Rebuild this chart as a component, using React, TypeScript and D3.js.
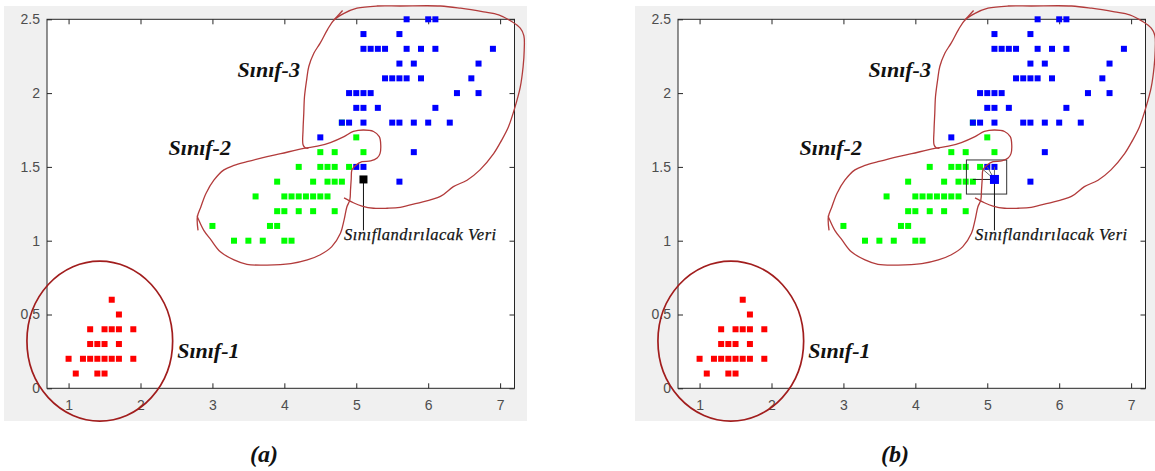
import React, { useEffect, useRef } from "react";
import * as d3 from "d3";

// iris petal length (cm) vs petal width (cm), unique points
const setosa: [number, number][] = [
  [1.1, 0.1], [1.4, 0.1], [1.5, 0.1],
  [1.0, 0.2], [1.2, 0.2], [1.3, 0.2], [1.4, 0.2], [1.5, 0.2], [1.6, 0.2], [1.7, 0.2], [1.9, 0.2],
  [1.3, 0.3], [1.4, 0.3], [1.5, 0.3], [1.7, 0.3],
  [1.3, 0.4], [1.5, 0.4], [1.6, 0.4], [1.7, 0.4], [1.9, 0.4],
  [1.7, 0.5], [1.6, 0.6],
];

const versicolor: [number, number][] = [
  [3.3, 1.0], [3.5, 1.0], [3.7, 1.0], [4.0, 1.0], [4.1, 1.0],
  [3.0, 1.1], [3.8, 1.1], [3.9, 1.1],
  [3.9, 1.2], [4.0, 1.2], [4.2, 1.2], [4.4, 1.2], [4.7, 1.2],
  [3.6, 1.3], [4.0, 1.3], [4.1, 1.3], [4.2, 1.3], [4.3, 1.3], [4.4, 1.3], [4.5, 1.3], [4.6, 1.3],
  [3.9, 1.4], [4.4, 1.4], [4.6, 1.4], [4.7, 1.4], [4.8, 1.4],
  [4.2, 1.5], [4.5, 1.5], [4.6, 1.5], [4.7, 1.5], [4.9, 1.5],
  [4.5, 1.6], [4.7, 1.6], [5.1, 1.6],
  [5.0, 1.7], [4.8, 1.8],
];

const virginica: [number, number][] = [
  [5.6, 1.4], [5.0, 1.5], [5.1, 1.5], [5.8, 1.6], [4.5, 1.7],
  [4.8, 1.8], [4.9, 1.8], [5.1, 1.8], [5.5, 1.8], [5.6, 1.8], [5.8, 1.8], [6.0, 1.8], [6.3, 1.8],
  [5.0, 1.9], [5.1, 1.9], [5.3, 1.9], [6.1, 1.9],
  [4.9, 2.0], [5.0, 2.0], [5.1, 2.0], [5.2, 2.0], [6.4, 2.0], [6.7, 2.0],
  [5.4, 2.1], [5.5, 2.1], [5.6, 2.1], [5.7, 2.1], [5.9, 2.1], [6.6, 2.1],
  [5.6, 2.2], [5.8, 2.2], [6.7, 2.2],
  [5.1, 2.3], [5.2, 2.3], [5.3, 2.3], [5.4, 2.3], [5.7, 2.3], [5.9, 2.3], [6.1, 2.3], [6.9, 2.3],
  [5.1, 2.4], [5.6, 2.4],
  [5.7, 2.5], [6.0, 2.5], [6.1, 2.5],
];

const query: [number, number] = [5.1, 1.415];
const queryLabelEnd = 1.07;
const neighbours: [number, number][] = [[4.8, 1.415], [4.9, 1.5], [5.0, 1.5], [5.1, 1.5]];
const searchBox = { x0: 4.71, x1: 5.27, y0: 1.316, y1: 1.547 };

const xTicks = [1, 2, 3, 4, 5, 6, 7];
const xTickLabels = ["1", "2", "3", "4", "5", "6", "7"];
const yTicks = [0, 0.5, 1, 1.5, 2, 2.5];
const yTickLabels = ["0", "0.5", "1", "1.5", "2", "2.5"];

const classLabels = [
  { text: "Sınıf-1", x: 2.51, y: 0.205 },
  { text: "Sınıf-2", x: 2.39, y: 1.58 },
  { text: "Sınıf-3", x: 3.35, y: 2.11 },
];
const queryLabel = { text: "Sınıflandırılacak Veri", x: 4.83, y: 1.005 };
const panelCaptions = ["(a)", "(b)"];

// hand drawn class outlines, in data units
const class1Ellipse = { cx: 1.434, cy: 0.32, rx: 1.013, ry: 0.542 };

const class2Outline: [number, number][] = [
  [2.8, 1.07], [2.79, 1.16], [2.84, 1.23], [2.91, 1.32], [3.02, 1.41], [3.16, 1.48], [3.3, 1.51],
  [3.48, 1.535], [3.76, 1.57], [3.95, 1.59], [4.27, 1.625], [4.46, 1.64], [4.64, 1.665], [4.83, 1.705],
  [4.96, 1.74], [5.1, 1.75], [5.24, 1.74], [5.32, 1.705], [5.34, 1.65], [5.33, 1.59], [5.29, 1.56],
  [5.2, 1.54], [5.08, 1.535], [4.99, 1.51], [4.94, 1.48], [4.93, 1.42], [4.92, 1.345], [4.91, 1.275],
  [4.87, 1.23], [4.83, 1.14], [4.78, 1.05], [4.66, 0.96], [4.5, 0.905], [4.32, 0.87], [4.09, 0.845],
  [3.76, 0.835], [3.48, 0.84], [3.3, 0.87], [3.11, 0.925], [2.98, 1.005], [2.88, 1.07], [2.81, 1.14],
  [2.785, 1.17],
];

const class3Outline: [number, number][] = [
  [4.83, 1.29], [4.96, 1.257], [5.08, 1.235], [5.24, 1.22], [5.43, 1.22], [5.61, 1.226], [5.84, 1.253],
  [6.17, 1.3], [6.35, 1.366], [6.54, 1.41], [6.72, 1.48], [6.91, 1.59], [7.02, 1.68], [7.115, 1.77],
  [7.21, 1.91], [7.28, 2.04], [7.32, 2.18], [7.335, 2.29], [7.33, 2.39], [7.28, 2.44], [7.16, 2.485],
  [6.98, 2.53], [6.77, 2.55], [6.45, 2.575], [6.17, 2.59], [5.61, 2.59], [5.29, 2.59], [5.01, 2.575],
  [4.83, 2.54], [4.69, 2.495], [4.6, 2.43], [4.5, 2.34], [4.41, 2.27], [4.34, 2.18], [4.31, 2.09],
  [4.28, 1.975], [4.27, 1.86], [4.26, 1.75], [4.26, 1.65], [4.29, 1.63], [4.335, 1.625],
];
const class3Tail: [number, number][] = [[4.69, 2.495], [4.81, 2.56]];

const W = 1155;
const H = 471;
const panelOffset = 631;

const App = () => {
  const ref = useRef<SVGSVGElement>(null);

  useEffect(() => {
    const svg = d3.select(ref.current);
    svg.selectAll("*").remove();

    const x = d3.scaleLinear().domain([0.7, 7.2]).range([47, 514.5]);
    const y = d3.scaleLinear().domain([0, 2.5]).range([388.3, 19.3]);
    const line = d3.line<[number, number]>().x((d) => x(d[0])).y((d) => y(d[1]));
    const smooth = d3
      .line<[number, number]>()
      .x((d) => x(d[0]))
      .y((d) => y(d[1]))
      .curve(d3.curveCatmullRom.alpha(0.5));

    const drawPanel = (i: number) => {
      const g = svg.append("g").attr("transform", `translate(${i * panelOffset},0)`);

      // figure background
      g.append("rect")
        .attr("x", 4)
        .attr("y", 6)
        .attr("width", 523)
        .attr("height", 415)
        .attr("fill", "#f0f0f0");
      g.append("rect")
        .attr("x", x.range()[0])
        .attr("y", y.range()[1])
        .attr("width", x.range()[1] - x.range()[0])
        .attr("height", y.range()[0] - y.range()[1])
        .attr("fill", "#fff");

      const styleAxis = (a: d3.Selection<SVGGElement, unknown, null, undefined>) => {
        a.select(".domain").remove();
        a.selectAll(".tick line").attr("stroke", "#262626");
        a.selectAll(".tick text")
          .attr("fill", "#4d4d4d")
          .attr("font-family", "'Liberation Sans', Arial, sans-serif")
          .attr("font-size", 14);
      };

      g.append("g")
        .attr("transform", `translate(0,${y.range()[0]})`)
        .call(
          d3.axisBottom(x).tickValues(xTicks).tickSize(-5).tickPadding(12)
            .tickFormat((_, k) => xTickLabels[k])
        )
        .call(styleAxis);
      g.append("g")
        .attr("transform", `translate(${x.range()[0]},0)`)
        .call(
          d3.axisLeft(y).tickValues(yTicks).tickSize(-5).tickPadding(7)
            .tickFormat((_, k) => yTickLabels[k])
        )
        .call(styleAxis);
      g.append("g")
        .attr("transform", `translate(0,${y.range()[1]})`)
        .call(d3.axisTop(x).tickValues(xTicks).tickSize(-5).tickFormat(() => ""))
        .call(styleAxis);
      g.append("g")
        .attr("transform", `translate(${x.range()[1]},0)`)
        .call(d3.axisRight(y).tickValues(yTicks).tickSize(-5).tickFormat(() => ""))
        .call(styleAxis);

      g.append("rect")
        .attr("x", x.range()[0])
        .attr("y", y.range()[1])
        .attr("width", x.range()[1] - x.range()[0])
        .attr("height", y.range()[0] - y.range()[1])
        .attr("fill", "none")
        .attr("stroke", "#262626");

      const s = 6;
      const groups: [[number, number][], string][] = [
        [setosa, "#ff0000"],
        [versicolor, "#00ff00"],
        [virginica, "#0000ff"],
      ];
      groups.forEach(([data, color]) => {
        g.append("g")
          .selectAll("rect")
          .data(data)
          .join("rect")
          .attr("x", (d) => x(d[0]) - s / 2)
          .attr("y", (d) => y(d[1]) - s / 2)
          .attr("width", s)
          .attr("height", s)
          .attr("fill", color);
      });

      // query point and its label line
      if (i === 1) {
        g.append("rect")
          .attr("x", x(searchBox.x0))
          .attr("y", y(searchBox.y1))
          .attr("width", x(searchBox.x1) - x(searchBox.x0))
          .attr("height", y(searchBox.y0) - y(searchBox.y1))
          .attr("fill", "none")
          .attr("stroke", "#333");
        g.append("g")
          .selectAll("path")
          .data(neighbours)
          .join("path")
          .attr("d", (d) => line([query, d]))
          .attr("stroke", (_, k) => (k === 0 ? "#222" : "#666"))
          .attr("stroke-width", 1)
          .attr("fill", "none");
      }
      g.append("path")
        .attr("d", line([query, [query[0], queryLabelEnd]]))
        .attr("stroke", "#111")
        .attr("fill", "none");
      const qs = i === 0 ? 8 : 9;
      g.append("rect")
        .attr("x", x(query[0]) - qs / 2)
        .attr("y", y(query[1]) - qs / 2)
        .attr("width", qs)
        .attr("height", qs)
        .attr("fill", i === 0 ? "#000" : "#0000ff");

      // class outlines
      g.append("ellipse")
        .attr("cx", x(class1Ellipse.cx))
        .attr("cy", y(class1Ellipse.cy))
        .attr("rx", x(class1Ellipse.cx + class1Ellipse.rx) - x(class1Ellipse.cx))
        .attr("ry", y(0) - y(class1Ellipse.ry))
        .attr("fill", "none")
        .attr("stroke", "#a11d1d")
        .attr("stroke-width", 1.7);
      [class2Outline, class3Outline, class3Tail].forEach((pts) => {
        g.append("path")
          .attr("d", smooth(pts))
          .attr("fill", "none")
          .attr("stroke", "#b23b3b")
          .attr("stroke-width", 1.3);
      });

      g.selectAll("text.cls")
        .data(classLabels)
        .join("text")
        .attr("class", "cls")
        .attr("x", (d) => x(d.x))
        .attr("y", (d) => y(d.y))
        .attr("font-family", "'Liberation Serif', 'Times New Roman', serif")
        .attr("font-style", "italic")
        .attr("font-weight", "bold")
        .attr("font-size", 22)
        .attr("fill", "#111")
        .text((d) => d.text);

      g.append("text")
        .attr("x", x(queryLabel.x))
        .attr("y", y(queryLabel.y))
        .attr("font-family", "'Liberation Serif', 'Times New Roman', serif")
        .attr("font-style", "italic")
        .attr("font-size", 16.5)
        .attr("letter-spacing", 0.5)
        .attr("stroke", "#1a1a1a")
        .attr("stroke-width", 0.25)
        .attr("fill", "#111")
        .text(queryLabel.text);

      g.append("text")
        .attr("x", 264)
        .attr("y", 462)
        .attr("text-anchor", "middle")
        .attr("font-family", "'Liberation Serif', 'Times New Roman', serif")
        .attr("font-style", "italic")
        .attr("font-weight", "bold")
        .attr("font-size", 24)
        .attr("fill", "#111")
        .text(panelCaptions[i]);
    };

    drawPanel(0);
    drawPanel(1);
  }, []);

  return (
    <svg
      ref={ref}
      width={W}
      height={H}
      style={{ position: "absolute", left: 0, top: 0, background: "#fff" }}
    />
  );
};

export default App;
